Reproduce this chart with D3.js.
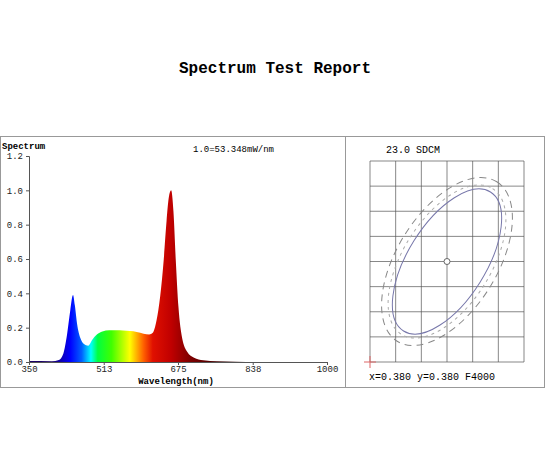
<!DOCTYPE html>
<html><head><meta charset="utf-8">
<script src="https://cdn.jsdelivr.net/npm/d3@7"></script>
<style>body{margin:0;background:#fff}text{font-family:"Liberation Mono",monospace}</style>
</head><body>
<svg id="c" width="550" height="450"></svg>
<script>
// spectrum data (relative, 1.0 = 53.348 mW/nm)
var wavelengths = [350,400,415,425,433,440,446,450,455,462,470,479,488,498,510,525,540,555,570,585,600,612,620,628,636,644,650,655,660,665,670,676,684,695,710,730,760,800,900,1000];
var values      = [0.006,0.005,0.012,0.05,0.16,0.3,0.39,0.33,0.22,0.14,0.105,0.095,0.13,0.16,0.178,0.185,0.185,0.183,0.18,0.175,0.165,0.16,0.17,0.24,0.38,0.6,0.82,0.96,1.0,0.88,0.6,0.32,0.14,0.06,0.025,0.01,0.004,0.002,0,0];
var xTicks = [350,513,675,838,1000];
var yTicks = [0,0.2,0.4,0.6,0.8,1.0,1.2];
// colour stops along wavelength
var stopNm  = [400,440,465,485,500,530,570,585,600,620,660,700,780];
var stopCol = ["#1a0066","#0000ff","#0060ff","#00ffff","#00ff40","#40ff00","#ffff00","#ffb000","#ff6000","#e01000","#c00000","#800000","#300000"];

var svg = d3.select("#c");
svg.append("text").attr("x",275).attr("y",73).attr("text-anchor","middle")
  .attr("font-size",16).attr("font-weight","bold").text("Spectrum Test Report");

// panels
svg.append("rect").attr("x",0.5).attr("y",136.5).attr("width",345).attr("height",251).attr("fill","none").attr("stroke","#999");
svg.append("rect").attr("x",345.5).attr("y",136.5).attr("width",199).attr("height",251).attr("fill","none").attr("stroke","#999");

var x = d3.scaleLinear().domain([350,1000]).range([29,327]);
var y = d3.scaleLinear().domain([0,1.2]).range([362,156]);

var grad = svg.append("defs").append("linearGradient").attr("id","sp")
  .attr("gradientUnits","userSpaceOnUse").attr("x1",x(350)).attr("x2",x(1000)).attr("y1",0).attr("y2",0);
stopNm.forEach(function(n,i){
  grad.append("stop").attr("offset",(n-350)/650).attr("stop-color",stopCol[i]);
});

var pts = wavelengths.map(function(w,i){return [w,values[i]];});
svg.append("path").datum(pts)
  .attr("d",d3.area().x(d=>x(d[0])).y0(y(0)).y1(d=>y(d[1])).curve(d3.curveMonotoneX))
  .attr("fill","url(#sp)");

var ax = svg.append("g").attr("transform","translate(0,362)")
  .call(d3.axisBottom(x).tickValues(xTicks).tickSize(3).tickFormat(d3.format("d")));
var ay = svg.append("g").attr("transform","translate(29,0)")
  .call(d3.axisLeft(y).tickValues(yTicks).tickSize(3).tickFormat(d3.format(".1f")));
[ax,ay].forEach(function(a){
  a.selectAll("path,line").attr("stroke","#555");
  a.selectAll("text").attr("font-size",9).attr("fill","#222").style("font-family","Liberation Mono");
});
ax.selectAll("text").attr("y",3).attr("dy","0.8em");
svg.append("text").attr("x",2).attr("y",149).attr("font-size",9).attr("font-weight","bold").text("Spectrum");
svg.append("text").attr("x",193).attr("y",152).attr("font-size",9).text("1.0=53.348mW/nm");
svg.append("text").attr("x",176).attr("y",384).attr("text-anchor","middle").attr("font-size",9).attr("font-weight","bold").text("Wavelength(nm)");

// chromaticity panel
var gx = d3.scaleLinear().domain([0,6]).range([370,524]);
var gy = d3.scaleLinear().domain([0,8]).range([161,362]);
var g = svg.append("g");
d3.range(7).forEach(function(i){
  g.append("line").attr("x1",gx(i)).attr("x2",gx(i)).attr("y1",gy(0)).attr("y2",gy(8)).attr("stroke","#555").attr("stroke-width",0.7);
});
d3.range(9).forEach(function(i){
  g.append("line").attr("x1",gx(0)).attr("x2",gx(6)).attr("y1",gy(i)).attr("y2",gy(i)).attr("stroke","#555").attr("stroke-width",0.7);
});
var cx = gx(3), cy = gy(4);
svg.append("ellipse").attr("cx",cx).attr("cy",cy).attr("rx",82).attr("ry",39)
  .attr("transform","rotate(-58 "+cx+" "+cy+")").attr("fill","none").attr("stroke","#7777aa");
svg.append("ellipse").attr("cx",cx).attr("cy",cy).attr("rx",94).attr("ry",50)
  .attr("transform","rotate(-58 "+cx+" "+cy+")").attr("fill","none").attr("stroke","#888").attr("stroke-dasharray","7,5");
svg.append("ellipse").attr("cx",cx).attr("cy",cy).attr("rx",86).attr("ry",44)
  .attr("transform","rotate(-58 "+cx+" "+cy+")").attr("fill","none").attr("stroke","#aaa").attr("stroke-dasharray","3,4");
svg.append("circle").attr("cx",cx).attr("cy",cy).attr("r",3).attr("fill","#fff").attr("stroke","#666");
svg.append("line").attr("x1",364).attr("x2",376).attr("y1",362).attr("y2",362).attr("stroke","#d66");
svg.append("line").attr("x1",370).attr("x2",370).attr("y1",356).attr("y2",368).attr("stroke","#d66");
svg.append("text").attr("x",386).attr("y",153).attr("font-size",10).text("23.0 SDCM");
svg.append("text").attr("x",369).attr("y",380).attr("font-size",10).text("x=0.380 y=0.380 F4000");
</script>
</body></html>
